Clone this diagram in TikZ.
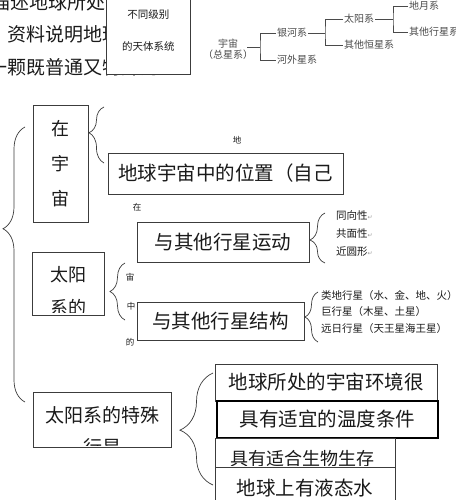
\documentclass[tikz,border=0pt]{standalone}
\usepackage{fontspec}
\setmainfont{Noto Sans CJK SC}
\newfontfamily\symfont{DejaVu Sans}
\usetikzlibrary{decorations.pathreplacing}
\definecolor{InkBlack}{HTML}{1A1A1A}
\definecolor{FrameGray}{HTML}{3C3C3C}
\definecolor{TreeGray}{HTML}{4A4A4A}
\definecolor{MarkGray}{HTML}{9A9A9A}
\newcommand{\retmark}{{\color{MarkGray}\symfont\fontsize{6}{6}\selectfont ↵}}
\tikzset{frame/.style={draw=FrameGray,fill=white,line width=0.8pt,inner sep=0pt,text=InkBlack},
  big/.style={font=\fontsize{19.5}{19.5}\selectfont,text=InkBlack,inner sep=0pt},
  tiny/.style={font=\fontsize{8.5}{8.5}\selectfont,text=InkBlack,inner sep=0pt},
  tree/.style={font=\fontsize{10}{11}\selectfont,text=TreeGray,inner sep=1pt,align=center},
  twig/.style={draw=TreeGray,line width=0.6pt},
  note/.style={font=\fontsize{10.5}{10.5}\selectfont,text=InkBlack,inner sep=0pt,anchor=west},
  brc/.style={draw=FrameGray,line width=0.7pt,decorate}}

\begin{document}
\begin{tikzpicture}[x=1pt,y=-1pt]
\clip (0,0) rectangle (455,500);
% page text behind the boxes
\node[big,anchor=west,font=\fontsize{19}{19}\selectfont] (lineA) at (-9,2) {描述地球所处的};
\node[big,anchor=west,font=\fontsize{19}{19}\selectfont] (lineB) at (7,34) {资料说明地球};
\node[big,anchor=west,font=\fontsize{19}{19}\selectfont] (lineC) at (-12,67) {一颗既普通又特殊的};
\node[frame,minimum width=84,minimum height=77,anchor=north west] (levels) at (106,-3) {};
\node[align=center,font=\fontsize{10.5}{32}\selectfont,text=InkBlack] (levelstext) at ([yshift=5pt]levels.center) {不同级别\\的天体系统};

% tree of the systems
\node[tree,inner sep=0pt] (cosmos) at (228,49) {宇宙\\（总星系）};
\node[tree,anchor=west] (galaxy) at (276,33) {银河系};
\node[tree,anchor=west] (beyond) at (276,60) {河外星系};
\node[tree,anchor=west] (solar) at (343,19) {太阳系};
\node[tree,anchor=west] (stars) at (343,45) {其他恒星系};
\node[tree,anchor=west] (earthmoon) at (408,6) {地月系};
\node[tree,anchor=west] (planets) at (408,32) {其他行星系};
\coordinate (forkA) at (260,47);
\coordinate (forkB) at (325,33);
\coordinate (forkC) at (393,19);
\draw[twig] ([xshift=-6pt]cosmos.east |- forkA) -- (forkA);
\draw[twig] (galaxy.west) -| (forkA) |- (beyond.west);
\draw[twig] (galaxy.east) -- (forkB);
\draw[twig] (solar.west) -| (forkB) |- (stars.west);
\draw[twig] (solar.east) -- (forkC);
\draw[twig] (earthmoon.west) -| (forkC) |- (planets.west);

% small stray characters
\node[tiny] (markDi) at (237,140) {地};
\node[tiny] (markZai) at (137,207) {在};
\node[tiny] (markYu) at (141,237) {宇};
\node[tiny] (markZhou) at (130,277) {宙};
\node[tiny] (markZhong) at (131,306) {中};
\node[tiny] (markDe) at (130,342) {的};

% boxes
\node[frame,minimum width=55,minimum height=117,align=center,font=\fontsize{18}{35}\selectfont] (inspace) at (60.5,163.5) {在\\宇\\宙};
\node[frame,big,minimum width=235,minimum height=41] (place) at (225.5,173.5) {地球宇宙中的位置（自己};
\node[frame,big,minimum width=172,minimum height=40] (motion) at (223,242) {与其他行星运动};
\node[frame,minimum width=72,minimum height=63] (solarbox) at (68,283.5) {};
\begin{scope}
\clip (35,255) rectangle (101,312);
\node[align=center,font=\fontsize{18}{33}\selectfont,text=InkBlack] (solartext) at (68,291.5) {太阳\\系的};
\end{scope}
\node[frame,big,minimum width=167,minimum height=38] (structure) at (220.5,321) {与其他行星结构};
\node[frame,minimum width=138,minimum height=55] (special) at (102,419.5) {};
\begin{scope}
\clip (35,394) rectangle (169,445);
\node[align=center,font=\fontsize{19}{32}\selectfont,text=InkBlack] (specialtext) at (102,431) {太阳系的特殊\\行星};
\end{scope}
\node[frame,big,minimum width=222,minimum height=37] (cosmicenv) at (326,382.5) {地球所处的宇宙环境很};
\node[frame,big,draw=black,line width=1.3pt,minimum width=221,minimum height=37] (heat) at (327.5,419.5) {具有适宜的温度条件};
\node[frame,minimum width=180,minimum height=29] (lifebox) at (305,452.5) {};
\begin{scope}
\clip (217,440) rectangle (393,465);
\node[font=\fontsize{18}{18}\selectfont,text=InkBlack] (lifetext) at (302,459) {具有适合生物生存};
\end{scope}
\node[frame,minimum width=180,minimum height=33] (waterbox) at (305,483.5) {};
\begin{scope}
\clip (217,469) rectangle (393,497);
\node[big] (watertext) at (305,488) {地球上有液态水};
\end{scope}

% braces
\draw[brc,decoration={brace,amplitude=22pt,aspect=0.63}] (25,402) -- (25,127);
\draw[brc,decoration={brace,amplitude=15pt,aspect=0.54}] (104,163) -- (104,107);
\draw[brc,decoration={brace,amplitude=15pt,aspect=0.46}] (325,263) -- (325,213);
\draw[brc,decoration={brace,amplitude=15pt,aspect=0.5}] (125,320) -- (125,263);
\draw[brc,decoration={brace,amplitude=13pt}] (318,342) -- (318,292);
\draw[brc,decoration={brace,amplitude=33pt,aspect=0.49}] (213,485) -- (213,373);

% lists
\node[note] (samedir) at (336,216) {同向性\retmark};
\node[note] (sameplane) at (336,234) {共面性\retmark};
\node[note] (nearcircle) at (336,252) {近圆形\retmark};
\node[note] (terrestrial) at (321,296) {类地行星（水、金、地、火）};
\node[note] (giant) at (321,312) {巨行星（木星、土星）};
\node[note] (distant) at (321,329) {远日行星（天王星海王星）};
\end{tikzpicture}
\end{document}
